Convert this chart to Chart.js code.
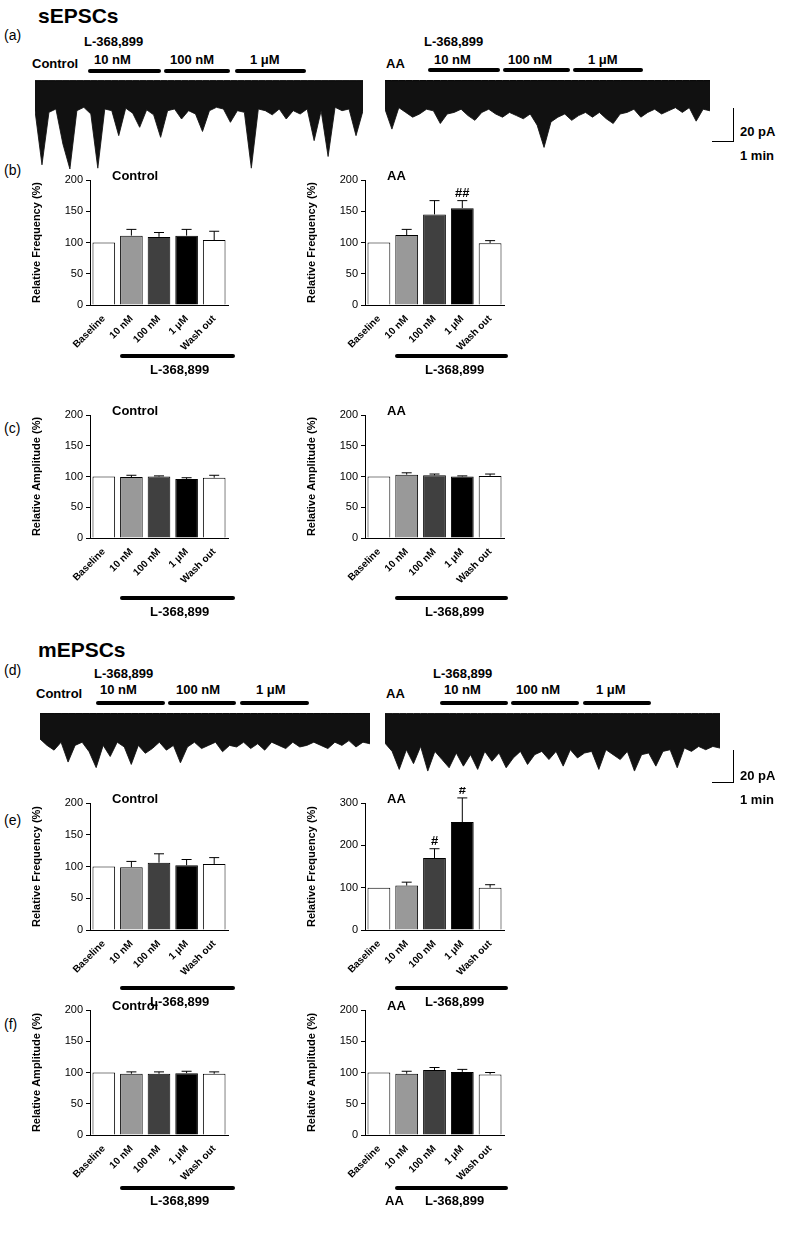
<!DOCTYPE html>
<html><head><meta charset="utf-8">
<script src="https://cdn.jsdelivr.net/npm/chart.js@4"></script>
<style>
body{margin:0;width:790px;height:1250px;position:relative;background:#fff;font-family:"Liberation Sans",Arial,sans-serif;font-weight:bold;color:#000;overflow:hidden}
.t{position:absolute;white-space:nowrap;font-size:13px;z-index:3}
.c{position:absolute}
.bar{position:absolute;height:4px;background:#000;border-radius:2px;z-index:3}
.line{position:absolute;background:#000;z-index:3}
</style></head><body>
<script>
// ---------- DATA ----------
const categories = ["Baseline","10 nM","100 nM","1 μM","Wash out"];
const sFreqCtrl = [100,111,109,111,104], sFreqCtrlErr = [0,10,7,10,14];
const sFreqAA   = [100,112,145,155,99],  sFreqAAErr   = [0,9,22,12,4];
const sAmpCtrl  = [100,99,100,96,98],    sAmpCtrlErr  = [0,3,1,2,4];
const sAmpAA    = [100,103,102,100,101], sAmpAAErr    = [0,3,2,1,3];
const mFreqCtrl = [100,99,106,102,104],  mFreqCtrlErr = [0,9,14,9,10];
const mFreqAA   = [100,105,170,255,100], mFreqAAErr   = [0,8,22,57,7];
const mAmpCtrl  = [100,98,98,99,98],     mAmpCtrlErr  = [0,3,3,3,3];
const mAmpAA    = [100,98,104,101,97],   mAmpAAErr    = [0,4,4,4,3];
const sFreqAAMarks = ["","","","##",""];
const mFreqAAMarks = ["","","#","#",""];
// trace envelopes (pA, lower edge of noise band)
const traceSCtrl = [-30,-95,-32,-28,-70,-100,-30,-26,-34,-99,-28,-30,-60,-27,-33,-50,-29,-35,-62,-30,-28,-40,-30,-34,-55,-30,-26,-28,-44,-30,-32,-99,-28,-30,-35,-28,-40,-30,-34,-28,-66,-30,-85,-26,-30,-28,-60,-30];
const traceSAA   = [-30,-55,-28,-34,-40,-36,-30,-32,-48,-36,-34,-30,-38,-44,-34,-30,-36,-40,-34,-38,-42,-36,-50,-78,-46,-40,-36,-44,-38,-34,-40,-34,-42,-48,-36,-34,-30,-40,-34,-30,-36,-32,-28,-34,-28,-45,-30,-32];
const traceMCtrl = [-26,-34,-40,-30,-55,-34,-30,-42,-62,-34,-48,-30,-36,-58,-34,-44,-38,-30,-40,-34,-56,-36,-30,-38,-34,-30,-42,-34,-36,-30,-38,-32,-40,-30,-34,-38,-30,-36,-34,-30,-34,-38,-30,-34,-28,-36,-30,-32];
const traceMAA   = [-30,-40,-62,-38,-55,-34,-64,-40,-50,-60,-42,-58,-44,-62,-40,-52,-42,-60,-48,-40,-56,-44,-40,-50,-40,-58,-38,-48,-42,-40,-62,-38,-44,-50,-40,-64,-44,-42,-58,-40,-38,-60,-36,-40,-34,-38,-34,-36];
const traceTop = 6;
// --------------------------
const FONT = {family:'"Liberation Sans", Arial, sans-serif', weight:'bold', size:10};
const colors = ['#ffffff','#999999','#404040','#000000','#ffffff'];

function addText(txt,x,y,size){const d=document.createElement('div');d.className='t';d.textContent=txt;d.style.left=x+'px';d.style.top=y+'px';if(size)d.style.fontSize=size+'px';document.body.appendChild(d);return d;}
function addBar(x1,x2,y){const d=document.createElement('div');d.className='bar';d.style.left=x1+'px';d.style.width=(x2-x1)+'px';d.style.top=y+'px';document.body.appendChild(d);}
function addLine(x,y,w,h){const d=document.createElement('div');d.className='line';d.style.left=x+'px';d.style.top=y+'px';d.style.width=w+'px';d.style.height=h+'px';document.body.appendChild(d);}
function canvasAt(l,t,w,h){const c=document.createElement('canvas');c.className='c';c.style.left=l+'px';c.style.top=t+'px';c.style.width=w+'px';c.style.height=h+'px';c.width=w;c.height=h;document.body.appendChild(c);return c;}

const errPlugin={id:'err',afterDatasetsDraw(chart){
  const o=chart.options.plugins.err; if(!o)return;
  const ctx=chart.ctx, ys=chart.scales.y, meta=chart.getDatasetMeta(0);
  ctx.save();ctx.strokeStyle='#000';ctx.lineWidth=1;ctx.fillStyle='#000';
  meta.data.forEach((b,i)=>{
    const v=o.vals[i], e=o.errs[i];
    const y1=ys.getPixelForValue(v), y2=ys.getPixelForValue(v+e);
    if(e>0){ctx.beginPath();ctx.moveTo(b.x,y1);ctx.lineTo(b.x,y2);ctx.moveTo(b.x-5,y2);ctx.lineTo(b.x+5,y2);ctx.stroke();}
    if(o.marks&&o.marks[i]){ctx.font='bold 13px "Liberation Sans", Arial';ctx.textAlign='center';ctx.fillText(o.marks[i],b.x,y2-4);}
  });ctx.restore();}};

function barChart(axisX,right,top,bottom,vals,errs,max,ylabel,title,marks,step){
  const left=axisX-62, padTop=16, xh=52;
  const c=canvasAt(left,top-padTop,right-left,bottom-top+padTop+xh);
  new Chart(c,{type:'bar',data:{labels:categories,datasets:[{data:vals,backgroundColor:colors,borderColor:'#000',borderWidth:1,barPercentage:0.82,categoryPercentage:1}]},
   options:{responsive:false,animation:false,layout:{padding:{top:padTop,right:4,left:0,bottom:0}},
    plugins:{legend:{display:false},tooltip:{enabled:false},err:{vals,errs,marks}},
    scales:{
     x:{grid:{display:false},border:{color:'#000'},ticks:{color:'#000',font:FONT,minRotation:45,maxRotation:45,padding:0},afterFit:s=>{s.height=xh;}},
     y:{min:0,max:max,grid:{drawOnChartArea:false,color:'#000',tickLength:4},border:{color:'#000'},
        ticks:{color:'#000',font:{...FONT,weight:'normal',size:11},stepSize:step},
        title:{display:true,text:ylabel,color:'#000',font:{...FONT,size:11},padding:2},afterFit:s=>{s.width=62;}}
    }},plugins:[errPlugin]});
  addText(title,axisX+22,top-12,13);
}

function trace(left,top,w,h,low,minV){
  const c=canvasAt(left,top,w,h);
  const xs=low.map((_,i)=>i);
  new Chart(c,{type:'line',data:{labels:xs,datasets:[
    {data:low.map(()=>traceTop),borderColor:'#000',borderWidth:1,pointRadius:0,fill:'+1',backgroundColor:'#111'},
    {data:low,borderColor:'#333',borderWidth:1,pointRadius:0,tension:0}]},
   options:{responsive:false,animation:false,layout:{padding:0},plugins:{legend:{display:false},tooltip:{enabled:false}},
    scales:{x:{display:false},y:{display:false,min:minV,max:8}}}});
}

// Titles
addText('sEPSCs',38,4,21); addText('mEPSCs',38,638,21);
function lab(t,x,y){const d=addText(t,x,y,14);d.style.fontWeight='normal';}
lab('(a)',4,27); lab('(b)',4,162); lab('(c)',4,420); lab('(d)',4,662); lab('(e)',4,812); lab('(f)',4,1016);

// (a)
trace(35,79,328,90,traceSCtrl,-100); trace(385,79,325,70,traceSAA,-80);
addText('Control',32,56); addText('L-368,899',84,34); addText('10 nM',94,52); addText('100 nM',170,52); addText('1 μM',250,52);
addBar(88,161,69); addBar(164,230,69); addBar(235,306,69);
addText('AA',386,56); addText('L-368,899',424,34); addText('10 nM',434,52); addText('100 nM',508,52); addText('1 μM',588,52);
addBar(428,500,68); addBar(503,570,68); addBar(573,643,68);
addLine(733,108,1,34); addLine(712,141,22,1); addText('20 pA',740,124); addText('1 min',740,148);

// (b)
barChart(90,232,180,305,sFreqCtrl,sFreqCtrlErr,200,'Relative Frequency (%)','Control',null,50);
barChart(365,508,180,305,sFreqAA,sFreqAAErr,200,'Relative Frequency (%)','AA',sFreqAAMarks,50);
addBar(120,235,354); addText('L-368,899',150,362); addBar(395,508,354); addText('L-368,899',425,362);
// (c)
barChart(90,232,415,538,sAmpCtrl,sAmpCtrlErr,200,'Relative Amplitude (%)','Control',null,50);
barChart(365,508,415,538,sAmpAA,sAmpAAErr,200,'Relative Amplitude (%)','AA',null,50);
addBar(120,235,596); addText('L-368,899',150,604); addBar(395,508,596); addText('L-368,899',425,604);

// (d)
trace(40,712,330,62,traceMCtrl,-70); trace(385,712,335,64,traceMAA,-70);
addText('Control',36,686); addText('L-368,899',94,666); addText('10 nM',100,682); addText('100 nM',176,682); addText('1 μM',256,682);
addBar(96,165,701); addBar(168,236,701); addBar(240,309,701);
addText('AA',386,686); addText('L-368,899',433,666); addText('10 nM',444,682); addText('100 nM',516,682); addText('1 μM',596,682);
addBar(440,508,701); addBar(511,579,701); addBar(583,651,701);
addLine(733,750,1,33); addLine(712,782,22,1); addText('20 pA',740,768); addText('1 min',740,792);

// (e)
barChart(90,232,803,930,mFreqCtrl,mFreqCtrlErr,200,'Relative Frequency (%)','Control',null,50);
barChart(365,508,803,930,mFreqAA,mFreqAAErr,300,'Relative Frequency (%)','AA',mFreqAAMarks,100);
addBar(120,235,986); addText('L-368,899',150,994); addBar(395,508,986); addText('L-368,899',425,994);
// (f)
barChart(90,232,1010,1135,mAmpCtrl,mAmpCtrlErr,200,'Relative Amplitude (%)','Control',null,50);
barChart(365,508,1010,1135,mAmpAA,mAmpAAErr,200,'Relative Amplitude (%)','AA',null,50);
addBar(120,235,1186); addText('L-368,899',150,1193); addBar(395,508,1186); addText('L-368,899',425,1193); addText('AA',385,1193);
</script>
</body></html>
